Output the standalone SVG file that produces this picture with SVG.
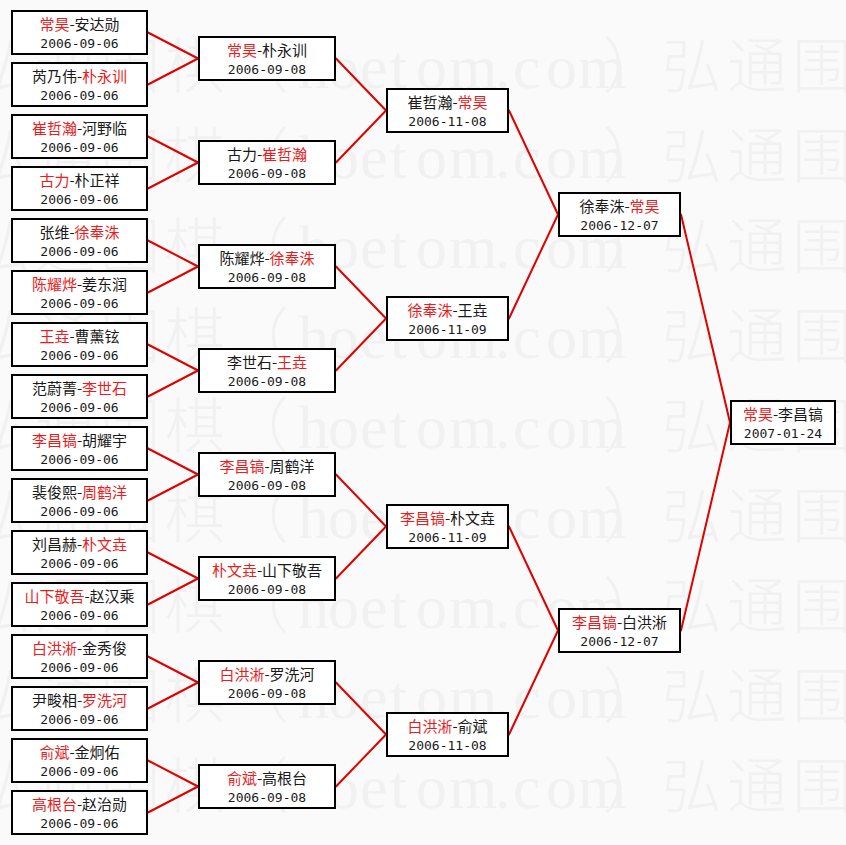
<svg xmlns="http://www.w3.org/2000/svg" xmlns:xlink="http://www.w3.org/1999/xlink" width="846" height="845" viewBox="0 0 846 845">
<style>
.bg{fill:#fafafa}
.wm{font-family:"Noto Sans CJK SC",sans-serif;font-size:60px;font-weight:300;fill:#f1f1f1}
.wl{font-family:"Liberation Serif",serif;font-size:62px}
.node rect{fill:#ffffff;stroke:#000;stroke-width:2}
.node text{text-anchor:middle;fill:#1a1a1a}
.n{font-family:"Noto Sans CJK SC",sans-serif;font-size:15px}
.d{font-family:"DejaVu Sans Mono",monospace;font-size:13px}
.r{fill:#ec1c1c}
#connectors line{stroke:#e00000;stroke-width:2;stroke-linecap:round}
</style>
<defs>
<text id="wm" class="wm"><tspan x="-30 35 100 165 229">弘通围棋（</tspan><tspan class="wl" x="298 328 360 390 416 449 495 513 546 578">hoetom.com</tspan><tspan x="603 662 727 792">）弘通围</tspan></text>
</defs>
<rect class="bg" x="0" y="0" width="846" height="845"/>
<g id="watermark">
<use xlink:href="#wm" y="88"/>
<use xlink:href="#wm" y="178"/>
<use xlink:href="#wm" y="268"/>
<use xlink:href="#wm" y="358"/>
<use xlink:href="#wm" y="448"/>
<use xlink:href="#wm" y="538"/>
<use xlink:href="#wm" y="628"/>
<use xlink:href="#wm" y="718"/>
<use xlink:href="#wm" y="808"/>
</g>
<g id="connectors">
<line x1="148" y1="32.5" x2="198" y2="58.5"/><line x1="148" y1="84.5" x2="198" y2="58.5"/>
<line x1="148" y1="136.5" x2="198" y2="162.5"/><line x1="148" y1="188.5" x2="198" y2="162.5"/>
<line x1="148" y1="240.5" x2="198" y2="266.5"/><line x1="148" y1="292.5" x2="198" y2="266.5"/>
<line x1="148" y1="344.5" x2="198" y2="370.5"/><line x1="148" y1="396.5" x2="198" y2="370.5"/>
<line x1="148" y1="448.5" x2="198" y2="474.5"/><line x1="148" y1="500.5" x2="198" y2="474.5"/>
<line x1="148" y1="552.5" x2="198" y2="578.5"/><line x1="148" y1="604.5" x2="198" y2="578.5"/>
<line x1="148" y1="656.5" x2="198" y2="682.5"/><line x1="148" y1="708.5" x2="198" y2="682.5"/>
<line x1="148" y1="760.5" x2="198" y2="786.5"/><line x1="148" y1="812.5" x2="198" y2="786.5"/>
<line x1="336" y1="58.5" x2="386" y2="110.5"/><line x1="336" y1="162.5" x2="386" y2="110.5"/>
<line x1="336" y1="266.5" x2="386" y2="318.5"/><line x1="336" y1="370.5" x2="386" y2="318.5"/>
<line x1="336" y1="474.5" x2="386" y2="526.5"/><line x1="336" y1="578.5" x2="386" y2="526.5"/>
<line x1="336" y1="682.5" x2="386" y2="734.5"/><line x1="336" y1="786.5" x2="386" y2="734.5"/>
<line x1="509" y1="110.5" x2="558" y2="214.5"/><line x1="509" y1="318.5" x2="558" y2="214.5"/>
<line x1="509" y1="526.5" x2="558" y2="630.5"/><line x1="509" y1="734.5" x2="558" y2="630.5"/>
<line x1="681" y1="214.5" x2="730" y2="422.5"/><line x1="681" y1="630.5" x2="730" y2="422.5"/>
</g>
<g id="r1-1" class="node" transform="translate(11,10)"><rect x="1" y="1" width="135" height="43"/><text class="n" x="68.5" y="20"><tspan class="r">常昊</tspan>-安达勋</text><text class="d" x="68.5" y="38">2006-09-06</text></g>
<g id="r1-2" class="node" transform="translate(11,62)"><rect x="1" y="1" width="135" height="43"/><text class="n" x="68.5" y="20">芮乃伟-<tspan class="r">朴永训</tspan></text><text class="d" x="68.5" y="38">2006-09-06</text></g>
<g id="r1-3" class="node" transform="translate(11,114)"><rect x="1" y="1" width="135" height="43"/><text class="n" x="68.5" y="20"><tspan class="r">崔哲瀚</tspan>-河野临</text><text class="d" x="68.5" y="38">2006-09-06</text></g>
<g id="r1-4" class="node" transform="translate(11,166)"><rect x="1" y="1" width="135" height="43"/><text class="n" x="68.5" y="20"><tspan class="r">古力</tspan>-朴正祥</text><text class="d" x="68.5" y="38">2006-09-06</text></g>
<g id="r1-5" class="node" transform="translate(11,218)"><rect x="1" y="1" width="135" height="43"/><text class="n" x="68.5" y="20">张维-<tspan class="r">徐奉洙</tspan></text><text class="d" x="68.5" y="38">2006-09-06</text></g>
<g id="r1-6" class="node" transform="translate(11,270)"><rect x="1" y="1" width="135" height="43"/><text class="n" x="68.5" y="20"><tspan class="r">陈耀烨</tspan>-姜东润</text><text class="d" x="68.5" y="38">2006-09-06</text></g>
<g id="r1-7" class="node" transform="translate(11,322)"><rect x="1" y="1" width="135" height="43"/><text class="n" x="68.5" y="20"><tspan class="r">王垚</tspan>-曹薰铉</text><text class="d" x="68.5" y="38">2006-09-06</text></g>
<g id="r1-8" class="node" transform="translate(11,374)"><rect x="1" y="1" width="135" height="43"/><text class="n" x="68.5" y="20">范蔚菁-<tspan class="r">李世石</tspan></text><text class="d" x="68.5" y="38">2006-09-06</text></g>
<g id="r1-9" class="node" transform="translate(11,426)"><rect x="1" y="1" width="135" height="43"/><text class="n" x="68.5" y="20"><tspan class="r">李昌镐</tspan>-胡耀宇</text><text class="d" x="68.5" y="38">2006-09-06</text></g>
<g id="r1-10" class="node" transform="translate(11,478)"><rect x="1" y="1" width="135" height="43"/><text class="n" x="68.5" y="20">裴俊熙-<tspan class="r">周鹤洋</tspan></text><text class="d" x="68.5" y="38">2006-09-06</text></g>
<g id="r1-11" class="node" transform="translate(11,530)"><rect x="1" y="1" width="135" height="43"/><text class="n" x="68.5" y="20">刘昌赫-<tspan class="r">朴文垚</tspan></text><text class="d" x="68.5" y="38">2006-09-06</text></g>
<g id="r1-12" class="node" transform="translate(11,582)"><rect x="1" y="1" width="135" height="43"/><text class="n" x="68.5" y="20"><tspan class="r">山下敬吾</tspan>-赵汉乘</text><text class="d" x="68.5" y="38">2006-09-06</text></g>
<g id="r1-13" class="node" transform="translate(11,634)"><rect x="1" y="1" width="135" height="43"/><text class="n" x="68.5" y="20"><tspan class="r">白洪淅</tspan>-金秀俊</text><text class="d" x="68.5" y="38">2006-09-06</text></g>
<g id="r1-14" class="node" transform="translate(11,686)"><rect x="1" y="1" width="135" height="43"/><text class="n" x="68.5" y="20">尹畯相-<tspan class="r">罗洗河</tspan></text><text class="d" x="68.5" y="38">2006-09-06</text></g>
<g id="r1-15" class="node" transform="translate(11,738)"><rect x="1" y="1" width="135" height="43"/><text class="n" x="68.5" y="20"><tspan class="r">俞斌</tspan>-金炯佑</text><text class="d" x="68.5" y="38">2006-09-06</text></g>
<g id="r1-16" class="node" transform="translate(11,790)"><rect x="1" y="1" width="135" height="43"/><text class="n" x="68.5" y="20"><tspan class="r">高根台</tspan>-赵治勋</text><text class="d" x="68.5" y="38">2006-09-06</text></g>
<g id="r2-1" class="node" transform="translate(198,36)"><rect x="1" y="1" width="136" height="43"/><text class="n" x="69" y="20"><tspan class="r">常昊</tspan>-朴永训</text><text class="d" x="69" y="38">2006-09-08</text></g>
<g id="r2-2" class="node" transform="translate(198,140)"><rect x="1" y="1" width="136" height="43"/><text class="n" x="69" y="20">古力-<tspan class="r">崔哲瀚</tspan></text><text class="d" x="69" y="38">2006-09-08</text></g>
<g id="r2-3" class="node" transform="translate(198,244)"><rect x="1" y="1" width="136" height="43"/><text class="n" x="69" y="20">陈耀烨-<tspan class="r">徐奉洙</tspan></text><text class="d" x="69" y="38">2006-09-08</text></g>
<g id="r2-4" class="node" transform="translate(198,348)"><rect x="1" y="1" width="136" height="43"/><text class="n" x="69" y="20">李世石-<tspan class="r">王垚</tspan></text><text class="d" x="69" y="38">2006-09-08</text></g>
<g id="r2-5" class="node" transform="translate(198,452)"><rect x="1" y="1" width="136" height="43"/><text class="n" x="69" y="20"><tspan class="r">李昌镐</tspan>-周鹤洋</text><text class="d" x="69" y="38">2006-09-08</text></g>
<g id="r2-6" class="node" transform="translate(198,556)"><rect x="1" y="1" width="136" height="43"/><text class="n" x="69" y="20"><tspan class="r">朴文垚</tspan>-山下敬吾</text><text class="d" x="69" y="38">2006-09-08</text></g>
<g id="r2-7" class="node" transform="translate(198,660)"><rect x="1" y="1" width="136" height="43"/><text class="n" x="69" y="20"><tspan class="r">白洪淅</tspan>-罗洗河</text><text class="d" x="69" y="38">2006-09-08</text></g>
<g id="r2-8" class="node" transform="translate(198,764)"><rect x="1" y="1" width="136" height="43"/><text class="n" x="69" y="20"><tspan class="r">俞斌</tspan>-高根台</text><text class="d" x="69" y="38">2006-09-08</text></g>
<g id="r3-1" class="node" transform="translate(386,88)"><rect x="1" y="1" width="121" height="43"/><text class="n" x="61.5" y="20">崔哲瀚-<tspan class="r">常昊</tspan></text><text class="d" x="61.5" y="38">2006-11-08</text></g>
<g id="r3-2" class="node" transform="translate(386,296)"><rect x="1" y="1" width="121" height="43"/><text class="n" x="61.5" y="20"><tspan class="r">徐奉洙</tspan>-王垚</text><text class="d" x="61.5" y="38">2006-11-09</text></g>
<g id="r3-3" class="node" transform="translate(386,504)"><rect x="1" y="1" width="121" height="43"/><text class="n" x="61.5" y="20"><tspan class="r">李昌镐</tspan>-朴文垚</text><text class="d" x="61.5" y="38">2006-11-09</text></g>
<g id="r3-4" class="node" transform="translate(386,712)"><rect x="1" y="1" width="121" height="43"/><text class="n" x="61.5" y="20"><tspan class="r">白洪淅</tspan>-俞斌</text><text class="d" x="61.5" y="38">2006-11-08</text></g>
<g id="r4-1" class="node" transform="translate(558,192)"><rect x="1" y="1" width="121" height="43"/><text class="n" x="61.5" y="20">徐奉洙-<tspan class="r">常昊</tspan></text><text class="d" x="61.5" y="38">2006-12-07</text></g>
<g id="r4-2" class="node" transform="translate(558,608)"><rect x="1" y="1" width="121" height="43"/><text class="n" x="61.5" y="20"><tspan class="r">李昌镐</tspan>-白洪淅</text><text class="d" x="61.5" y="38">2006-12-07</text></g>
<g id="final" class="node" transform="translate(730,400)"><rect x="1" y="1" width="104" height="43"/><text class="n" x="53" y="20"><tspan class="r">常昊</tspan>-李昌镐</text><text class="d" x="53" y="38">2007-01-24</text></g>
</svg>
